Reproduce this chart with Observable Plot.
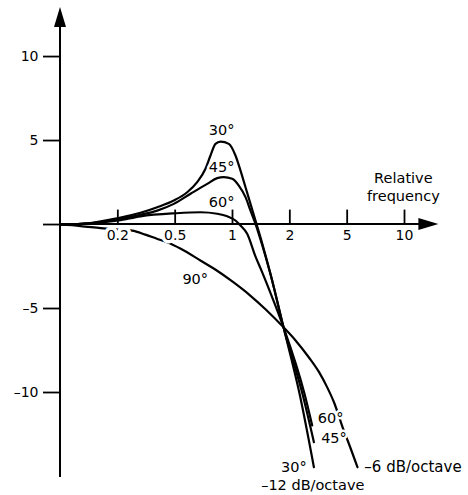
<!DOCTYPE html>
<html><head><meta charset="utf-8">
<script src="https://cdn.jsdelivr.net/npm/d3@7"></script>
<script src="https://cdn.jsdelivr.net/npm/@observablehq/plot@0.6"></script>
<style>
html,body{margin:0;padding:0;background:#fff;}
#chart svg{display:block;}
</style></head><body><div id="chart"></div>
<script>
// x positions are in axis steps: 0 = origin, 1 = 0.2, 2 = 0.5, 3 = 1, 4 = 2, 5 = 5, 6 = 10
const xTickPos = [1, 2, 3, 4, 5, 6];
const xTickLabels = ["0.2", "0.5", "1", "2", "5", "10"];
const yTicks = [-10, -5, 0, 5, 10];

const pos30 = [0,0.52,1.01,1.395,1.687,1.976,2.21,2.384,2.529,2.616,2.703,2.791,2.936,3.052,3.14,3.227,3.314,3.401,3.489,3.66,3.89,4.17,4.42];
const gain30 = [0,0.09,0.39,0.70,1.03,1.43,1.92,2.52,3.32,4.11,4.80,4.94,4.80,4.11,3.21,2.22,1.23,0.24,-0.77,-2.92,-6.12,-10.08,-14.45];

const pos45 = [0,0.52,1.01,1.395,1.687,1.976,2.268,2.559,2.733,2.848,2.995,3.11,3.227,3.314,3.401,3.52,3.66,3.89,4.22,4.42];
const gain45 = [0,0.07,0.33,0.58,0.83,1.23,1.83,2.42,2.76,2.82,2.72,2.32,1.63,0.83,0.04,-1.25,-2.92,-6.12,-10.08,-12.96];

const pos60 = [0,0.52,1.01,1.395,2.006,2.442,2.733,2.908,3.052,3.14,3.256,3.40,3.52,3.66,3.89,4.256,4.39];
const gain60 = [0,0.07,0.24,0.49,0.67,0.73,0.64,0.49,0.24,-0.06,-0.55,-1.90,-2.86,-4.05,-6.12,-10.08,-11.96];

const pos90 = [0,0.35,0.70,1.01,1.25,1.48,1.69,1.87,2.09,2.44,2.70,3.02,3.31,3.58,3.89,4.10,4.33,4.51,4.65,4.77,4.94,5.03,5.18];
const gain90 = [0,-0.09,-0.21,-0.30,-0.36,-0.60,-0.86,-1.07,-1.43,-2.14,-2.68,-3.45,-4.23,-5.06,-6.12,-6.90,-7.90,-8.79,-9.68,-10.58,-12.26,-13.05,-14.45];

const curveNames = ["30°", "45°", "60°", "90°"];
const curvePos = [pos30, pos45, pos60, pos90];
const curveGain = [gain30, gain45, gain60, gain90];

const labelText = ["30°", "45°", "60°", "90°", "60°", "45°", "30°", "Relative", "frequency"];
const labelX = [2.81, 2.81, 2.81, 2.35, 4.71, 4.77, 4.07, 5.98, 5.98];
const labelY = [5.60, 3.39, 1.31, -3.27, -11.52, -12.71, -14.45, 2.73, 1.70];

const slopeText = ["–6 dB/octave", "–12 dB/octave"];
const slopeX = [5.30, 4.40];
const slopeY = [-14.45, -15.52];
const slopeAnchor = ["start", "middle"];

const xMin = 0, xMax = 6.6, yMin = -15.06, yMax = 12.92;

const rows = curveNames.flatMap((name, i) => curvePos[i].map((p, j) => ({angle: name, x: p, y: curveGain[i][j]})));
const labels = labelText.map((t, i) => ({text: t, x: labelX[i], y: labelY[i]}));
const slopes = slopeText.map((t, i) => ({text: t, x: slopeX[i], y: slopeY[i], anchor: slopeAnchor[i]}));
const xTicks = xTickPos.map((p, i) => ({x: p, label: xTickLabels[i]}));

function axesWithArrows(index, scales) {
  const sx = scales.x, sy = scales.y;
  const x0 = sx(0), y0 = sy(0), xt = sx(xMax), yt = sy(yMax), yb = sy(yMin);
  const g = d3.create("svg:g");
  const aLen = 20, aHalf = 6;
  g.append("line").attr("x1", x0).attr("x2", x0).attr("y1", yb).attr("y2", yt + aLen - 1)
    .attr("stroke", "black").attr("stroke-width", 2);
  g.append("line").attr("x1", x0).attr("x2", xt - aLen + 1).attr("y1", y0).attr("y2", y0)
    .attr("stroke", "black").attr("stroke-width", 2);
  g.append("path").attr("d", `M${x0},${yt}L${x0 - aHalf},${yt + aLen}L${x0 + aHalf},${yt + aLen}Z`).attr("fill", "black");
  g.append("path").attr("d", `M${xt},${y0}L${xt - aLen},${y0 - aHalf}L${xt - aLen},${y0 + aHalf}Z`).attr("fill", "black");
  return g.node();
}

const chart = Plot.plot({
  width: 468, height: 495,
  marginLeft: 60, marginRight: 29.6, marginTop: 7, marginBottom: 18,
  x: {domain: [xMin, xMax], axis: null},
  y: {domain: [yMin, yMax], axis: null},
  style: {fontFamily: "'DejaVu Sans', sans-serif", fontSize: "14px", color: "black", background: "white", overflow: "visible"},
  marks: [
    Plot.line(rows, {x: "x", y: "y", z: "angle", stroke: "black", strokeWidth: 2.2, curve: "monotone-x"}),
    Plot.axisY({ticks: yTicks, tickSize: 17, tickPadding: 5, strokeWidth: 1.8, fontSize: 14,
      tickFormat: d => d === 0 ? "" : (d < 0 ? "–" + (-d) : String(d)), label: null}),
    Plot.ruleX(xTicks, {x: "x", y1: 0, y2: 0.86, stroke: "black", strokeWidth: 1.8}),
    axesWithArrows,
    Plot.text(xTicks, {x: "x", y: 0, dy: 11, text: "label", fill: "black", stroke: "white", strokeWidth: 7, fontSize: 14}),
    Plot.text(labels, {x: "x", y: "y", text: "text", fill: "black", stroke: "white", strokeWidth: 5, fontSize: 14.5}),
    Plot.text(slopes.filter(d => d.anchor === "start"), {x: "x", y: "y", text: "text", textAnchor: "start", fill: "black", stroke: "white", strokeWidth: 5, fontSize: 15}),
    Plot.text(slopes.filter(d => d.anchor === "middle"), {x: "x", y: "y", text: "text", fill: "black", fontSize: 14.5})
  ]
});
document.getElementById("chart").appendChild(chart);
</script>
</body></html>
